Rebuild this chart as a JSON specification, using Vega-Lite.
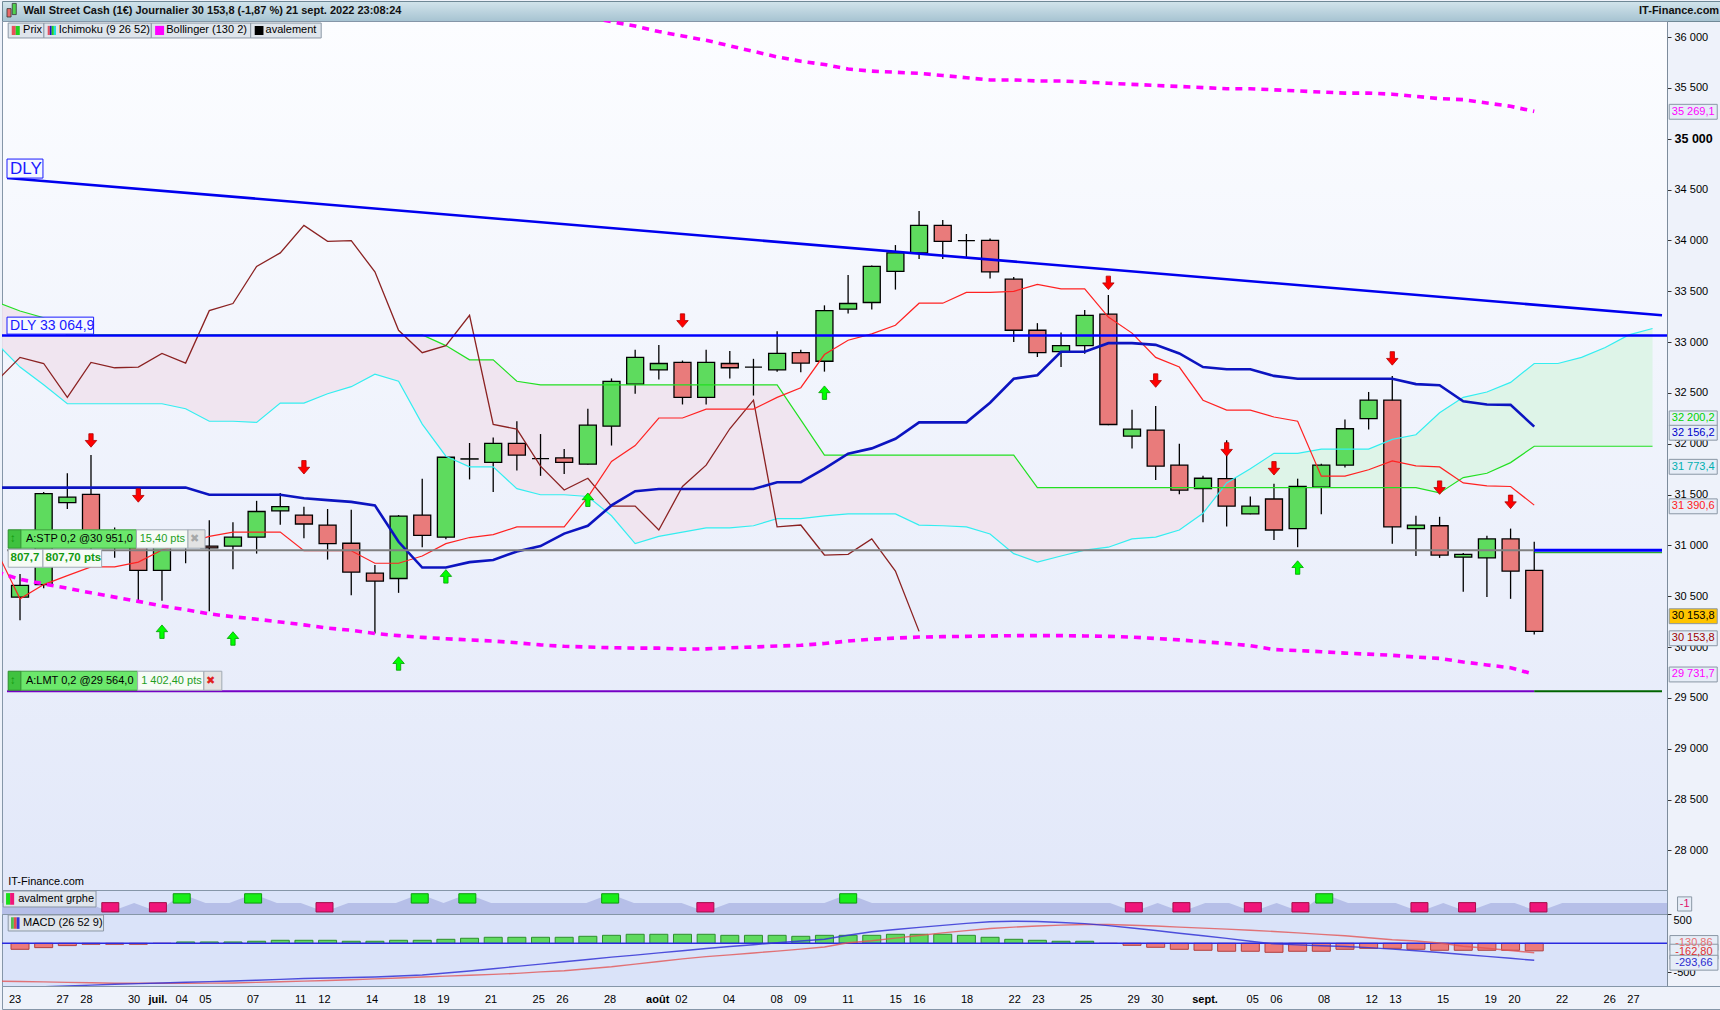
{
"$schema":"https://vega.github.io/schema/vega-lite/v6.json",
"padding":0,
"background":"#eef2fa",
"spacing":0,
"bounds":"flush",
"config":{"view":{"stroke":"#8596a8"},"font":"Liberation Sans","axis":{"labelFont":"Liberation Sans","grid":false,"title":null}},
"datasets":{
"candles":[
{"i":0,"o":30491,"h":30719,"l":30263,"c":30607},{"i":1,"o":30614,"h":31526,"l":30579,"c":31509},{"i":2,"o":31421,"h":31709,"l":31358,"c":31474},{"i":3,"o":31502,"h":31888,"l":30950,"c":31052},{"i":4,"o":30990,"h":31175,"l":30877,"c":31060},{"i":5,"o":31088,"h":31140,"l":30456,"c":30754},{"i":6,"o":30754,"h":31140,"l":30456,"c":31100},{"i":7,"o":31080,"h":31140,"l":30824,"c":31020},{"i":8,"o":30993,"h":31246,"l":30351,"c":30975},{"i":9,"o":30993,"h":31228,"l":30765,"c":31081},
{"i":10,"o":31081,"h":31438,"l":30919,"c":31333},{"i":11,"o":31340,"h":31516,"l":31203,"c":31382},{"i":12,"o":31298,"h":31379,"l":31070,"c":31210},{"i":13,"o":31200,"h":31358,"l":30860,"c":31017},{"i":14,"o":31021,"h":31351,"l":30509,"c":30737},{"i":15,"o":30726,"h":30807,"l":30133,"c":30649},{"i":16,"o":30674,"h":31298,"l":30533,"c":31288},{"i":17,"o":31298,"h":31656,"l":30982,"c":31098},{"i":18,"o":31081,"h":31877,"l":31060,"c":31867},{"i":19,"o":31849,"h":32007,"l":31649,"c":31851},
{"i":20,"o":31817,"h":32060,"l":31526,"c":32003},{"i":21,"o":32003,"h":32221,"l":31737,"c":31888},{"i":22,"o":31853,"h":32095,"l":31684,"c":31853},{"i":23,"o":31860,"h":31947,"l":31702,"c":31817},{"i":24,"o":31800,"h":32344,"l":31795,"c":32182},{"i":25,"o":32172,"h":32642,"l":31982,"c":32614},{"i":26,"o":32586,"h":32923,"l":32491,"c":32849},{"i":27,"o":32726,"h":32972,"l":32632,"c":32789},{"i":28,"o":32800,"h":32818,"l":32386,"c":32456},{"i":29,"o":32456,"h":32923,"l":32386,"c":32800},
{"i":30,"o":32789,"h":32912,"l":32642,"c":32747},{"i":31,"o":32754,"h":32835,"l":32474,"c":32754},{"i":32,"o":32726,"h":33105,"l":32709,"c":32888},{"i":33,"o":32895,"h":32923,"l":32702,"c":32793},{"i":34,"o":32811,"h":33361,"l":32709,"c":33309},{"i":35,"o":33323,"h":33660,"l":33281,"c":33379},{"i":36,"o":33389,"h":33754,"l":33319,"c":33744},{"i":37,"o":33695,"h":33954,"l":33516,"c":33877},{"i":38,"o":33877,"h":34288,"l":33818,"c":34147},{"i":39,"o":34147,"h":34200,"l":33818,"c":33990},
{"i":40,"o":33997,"h":34063,"l":33835,"c":33997},{"i":41,"o":34000,"h":34018,"l":33625,"c":33691},{"i":42,"o":33618,"h":33639,"l":33000,"c":33116},{"i":43,"o":33116,"h":33186,"l":32853,"c":32895},{"i":44,"o":32905,"h":33095,"l":32754,"c":32965},{"i":45,"o":32965,"h":33316,"l":32884,"c":33263},{"i":46,"o":33274,"h":33463,"l":32182,"c":32189},{"i":47,"o":32074,"h":32333,"l":31954,"c":32144},{"i":48,"o":32133,"h":32372,"l":31642,"c":31779},{"i":49,"o":31789,"h":32000,"l":31502,"c":31544},
{"i":50,"o":31558,"h":31684,"l":31228,"c":31660},{"i":51,"o":31656,"h":32035,"l":31186,"c":31386},{"i":52,"o":31309,"h":31481,"l":31305,"c":31386},{"i":53,"o":31456,"h":31607,"l":31053,"c":31151},{"i":54,"o":31165,"h":31656,"l":30982,"c":31579},{"i":55,"o":31572,"h":31803,"l":31305,"c":31789},{"i":56,"o":31789,"h":32239,"l":31765,"c":32147},{"i":57,"o":32246,"h":32509,"l":32140,"c":32428},{"i":58,"o":32428,"h":32667,"l":31017,"c":31182},{"i":59,"o":31165,"h":31291,"l":30895,"c":31200},
{"i":60,"o":31193,"h":31281,"l":30877,"c":30905},{"i":61,"o":30884,"h":30926,"l":30544,"c":30912},{"i":62,"o":30877,"h":31095,"l":30491,"c":31063},{"i":63,"o":31063,"h":31165,"l":30474,"c":30747},{"i":64,"o":30754,"h":31035,"l":30123,"c":30154}
],
"ichi":[
{"i":-1,"t":30950,"k":31568,"a":32990,"b":33393,"ch":32614},{"i":0,"t":30474,"k":31568,"a":32754,"b":33305,"ch":32849},{"i":1,"t":30614,"k":31568,"a":32579,"b":33239,"ch":32789},{"i":2,"t":30702,"k":31568,"a":32393,"b":33070,"ch":32456},{"i":3,"t":30789,"k":31568,"a":32393,"b":33070,"ch":32800},{"i":4,"t":30789,"k":31568,"a":32393,"b":33070,"ch":32747},{"i":5,"t":30835,"k":31568,"a":32393,"b":33070,"ch":32754},{"i":6,"t":30954,"k":31568,"a":32393,"b":33070,"ch":32888},{"i":7,"t":31017,"k":31568,"a":32344,"b":33070,"ch":32793},{"i":8,"t":31088,"k":31498,"a":32221,"b":33070,"ch":33309},{"i":9,"t":31130,"k":31498,"a":32221,"b":33070,"ch":33379},
{"i":10,"t":31130,"k":31498,"a":32210,"b":33070,"ch":33744},{"i":11,"t":31130,"k":31498,"a":32400,"b":33070,"ch":33877},{"i":12,"t":30947,"k":31463,"a":32400,"b":33070,"ch":34147},{"i":13,"t":30947,"k":31445,"a":32491,"b":33070,"ch":33990},{"i":14,"t":30947,"k":31428,"a":32561,"b":33070,"ch":33997},{"i":15,"t":30824,"k":31393,"a":32684,"b":33070,"ch":33691},{"i":16,"t":30824,"k":31035,"a":32614,"b":33070,"ch":33116},{"i":17,"t":30895,"k":30782,"a":32193,"b":33070,"ch":32895},{"i":18,"t":31017,"k":30782,"a":31877,"b":32965,"ch":32965},{"i":19,"t":31077,"k":30835,"a":31772,"b":32825,"ch":33263},
{"i":20,"t":31105,"k":30856,"a":31772,"b":32825,"ch":32189},{"i":21,"t":31182,"k":30940,"a":31558,"b":32614,"ch":32144},{"i":22,"t":31182,"k":30993,"a":31498,"b":32579,"ch":31779},{"i":23,"t":31182,"k":31116,"a":31498,"b":32579,"ch":31544},{"i":24,"t":31474,"k":31193,"a":31481,"b":32579,"ch":31660},{"i":25,"t":31825,"k":31393,"a":31291,"b":32579,"ch":31386},{"i":26,"t":31982,"k":31533,"a":31017,"b":32579,"ch":31386},{"i":27,"t":32253,"k":31554,"a":31088,"b":32579,"ch":31151},{"i":28,"t":32253,"k":31554,"a":31130,"b":32579,"ch":31579},{"i":29,"t":32340,"k":31554,"a":31172,"b":32579,"ch":31789},
{"i":30,"t":32340,"k":31554,"a":31172,"b":32579,"ch":32147},{"i":31,"t":32340,"k":31554,"a":31193,"b":32579,"ch":32428},{"i":32,"t":32456,"k":31621,"a":31263,"b":32579,"ch":31182},{"i":33,"t":32551,"k":31621,"a":31263,"b":32235,"ch":31200},{"i":34,"t":32877,"k":31754,"a":31291,"b":31888,"ch":30905},{"i":35,"t":33018,"k":31902,"a":31309,"b":31888,"ch":30912},{"i":36,"t":33081,"k":31954,"a":31309,"b":31888,"ch":31063},{"i":37,"t":33165,"k":32049,"a":31309,"b":31888,"ch":30747},{"i":38,"t":33382,"k":32210,"a":31200,"b":31888,"ch":30154},{"i":39,"t":33382,"k":32210,"a":31193,"b":31888},
{"i":40,"t":33488,"k":32210,"a":31182,"b":31888},{"i":41,"t":33488,"k":32403,"a":31112,"b":31888},{"i":42,"t":33498,"k":32639,"a":30919,"b":31888},{"i":43,"t":33568,"k":32674,"a":30835,"b":31568},{"i":44,"t":33523,"k":32905,"a":30895,"b":31568},{"i":45,"t":33523,"k":32905,"a":30954,"b":31568},{"i":46,"t":33246,"k":32989,"a":30982,"b":31568},{"i":47,"t":33088,"k":32989,"a":31063,"b":31568},{"i":48,"t":32849,"k":32972,"a":31081,"b":31568},{"i":49,"t":32754,"k":32888,"a":31151,"b":31568},
{"i":50,"t":32428,"k":32754,"a":31316,"b":31568},{"i":50.85,"a":31568,"b":31568},{"i":51,"t":32330,"k":32733,"a":31614,"b":31568},{"i":52,"t":32330,"k":32733,"a":31754,"b":31568},{"i":53,"t":32263,"k":32667,"a":31905,"b":31568},{"i":54,"t":32221,"k":32639,"a":31905,"b":31568},{"i":55,"t":31681,"k":32639,"a":31947,"b":31568},{"i":56,"t":31681,"k":32639,"a":31947,"b":31568},{"i":57,"t":31744,"k":32639,"a":31947,"b":31568},{"i":58,"t":31831,"k":32639,"a":32042,"b":31568},{"i":59,"t":31782,"k":32586,"a":32088,"b":31568},
{"i":60,"t":31772,"k":32575,"a":32305,"b":31516},{"i":61,"t":31614,"k":32417,"a":32456,"b":31667},{"i":62,"t":31586,"k":32386,"a":32509,"b":31709},{"i":63,"t":31579,"k":32382,"a":32603,"b":31814},{"i":64,"t":31396,"k":32168,"a":32789,"b":31975},{"i":65,"a":32789,"b":31975},{"i":66,"a":32849,"b":31975},{"i":67,"a":32947,"b":31975},{"i":68,"a":33070,"b":31975},{"i":69,"a":33133,"b":31975}
],
"boll":[
{"i":-1,"lo":30740},{"i":0,"lo":30666},{"i":1,"lo":30621},{"i":2,"lo":30579},{"i":3,"lo":30533},{"i":4,"lo":30491},{"i":5,"lo":30449},{"i":6,"lo":30403},{"i":7,"lo":30368},{"i":8,"lo":30326},{"i":9,"lo":30298},{"i":10,"lo":30274},{"i":11,"lo":30246},{"i":12,"lo":30218},{"i":13,"lo":30186},{"i":14,"lo":30165},{"i":15,"lo":30133},{"i":16,"lo":30112},{"i":17,"lo":30095},{"i":18,"lo":30081},{"i":19,"lo":30070},{"i":20,"lo":30059},{"i":21,"lo":30042},
{"i":22,"u":36300,"lo":30021},{"i":23,"u":36230,"lo":30007},{"i":24,"u":36200,"lo":30000},{"i":25,"u":36151,"lo":29993},{"i":26,"u":36108,"lo":29989},{"i":27,"u":36054,"lo":29989},{"i":28,"u":36011,"lo":29979},{"i":29,"u":35968,"lo":29982},{"i":30,"u":35914,"lo":29993},{"i":31,"u":35859,"lo":30000},{"i":32,"u":35805,"lo":30010},{"i":33,"u":35762,"lo":30017},{"i":34,"u":35730,"lo":30035},{"i":35,"u":35686,"lo":30059},{"i":36,"u":35665,"lo":30077},{"i":37,"u":35654,"lo":30088},{"i":38,"u":35643,"lo":30098},{"i":39,"u":35622,"lo":30102},{"i":40,"u":35600,"lo":30105},{"i":41,"u":35578,"lo":30109},{"i":42,"u":35578,"lo":30112},{"i":43,"u":35568,"lo":30112},
{"i":44,"u":35568,"lo":30112},{"i":45,"u":35557,"lo":30109},{"i":46,"u":35546,"lo":30105},{"i":47,"u":35535,"lo":30098},{"i":48,"u":35524,"lo":30084},{"i":49,"u":35514,"lo":30070},{"i":50,"u":35503,"lo":30052},{"i":51,"u":35492,"lo":30035},{"i":52,"u":35492,"lo":30014},{"i":53,"u":35481,"lo":29975},{"i":54,"u":35470,"lo":29965},{"i":55,"u":35459,"lo":29954},{"i":56,"u":35449,"lo":29940},{"i":57,"u":35449,"lo":29930},{"i":58,"u":35438,"lo":29919},{"i":59,"u":35416,"lo":29901},{"i":60,"u":35395,"lo":29888},{"i":61,"u":35384,"lo":29853},{"i":62,"u":35351,"lo":29824},{"i":63,"u":35319,"lo":29796},{"i":64,"u":35269,"lo":29732}
],
"arrows":[
{"i":3,"p":32032,"d":"dn"},{"i":5,"p":31491,"d":"dn"},{"i":12,"p":31768,"d":"dn"},{"i":28,"p":33211,"d":"dn"},{"i":46,"p":33582,"d":"dn"},{"i":48,"p":32621,"d":"dn"},{"i":51,"p":31944,"d":"dn"},{"i":53,"p":31758,"d":"dn"},{"i":58,"p":32839,"d":"dn"},{"i":60,"p":31568,"d":"dn"},{"i":63,"p":31428,"d":"dn"},
{"i":6,"p":30151,"d":"up"},{"i":9,"p":30084,"d":"up"},{"i":16,"p":29838,"d":"up"},{"i":18,"p":30695,"d":"up"},{"i":24,"p":31449,"d":"up"},{"i":34,"p":32502,"d":"up"},{"i":54,"p":30782,"d":"up"}
],
"boxes":[
{"x":-0.5,"x2":1.01,"y":36138,"y2":35991,"k":"leg"},{"x":1.01,"x2":5.55,"y":36138,"y2":35991,"k":"leg"},{"x":5.55,"x2":9.75,"y":36138,"y2":35991,"k":"leg"},{"x":9.75,"x2":12.73,"y":36138,"y2":35991,"k":"leg"},
{"x":-0.35,"x2":-0.18,"y":36110,"y2":36020,"k":"ic_red"},{"x":-0.18,"x2":-0.01,"y":36110,"y2":36020,"k":"ic_grn"},
{"x":1.17,"x2":1.26,"y":36110,"y2":36020,"k":"ic_red"},{"x":1.26,"x2":1.34,"y":36110,"y2":36020,"k":"ic_blue"},{"x":1.34,"x2":1.43,"y":36110,"y2":36020,"k":"ic_grn"},{"x":1.43,"x2":1.52,"y":36110,"y2":36020,"k":"ic_cyan"},
{"x":5.71,"x2":6.09,"y":36110,"y2":36020,"k":"ic_mag"},{"x":9.92,"x2":10.29,"y":36110,"y2":36020,"k":"ic_blk"},
{"x":-0.5,"x2":0.04,"y":31153,"y2":30972,"k":"icon"},{"x":0.04,"x2":4.92,"y":31153,"y2":30972,"k":"grn"},{"x":4.92,"x2":7.1,"y":31153,"y2":30972,"k":"wht"},{"x":7.1,"x2":7.82,"y":31153,"y2":30972,"k":"gry"},
{"x":-0.5,"x2":0.97,"y":30962,"y2":30785,"k":"wht"},{"x":0.97,"x2":3.45,"y":30962,"y2":30785,"k":"wht"},
{"x":-0.5,"x2":0.04,"y":29762,"y2":29575,"k":"icon"},{"x":0.04,"x2":4.97,"y":29762,"y2":29575,"k":"grn"},{"x":4.97,"x2":7.77,"y":29762,"y2":29575,"k":"wht"},{"x":7.77,"x2":8.53,"y":29762,"y2":29575,"k":"gry"},
{"x":-0.55,"x2":0.97,"y":34800,"y2":34613,"k":"dly"},{"x":-0.55,"x2":3.11,"y":33245,"y2":33078,"k":"dly"}
],
"labels":[
{"i":0.13,"p":36065,"t":"Prix","k":"blk"},{"i":1.64,"p":36065,"t":"Ichimoku (9 26 52)","k":"blk"},{"i":6.18,"p":36065,"t":"Bollinger (130 2)","k":"blk"},{"i":10.38,"p":36065,"t":"avalement","k":"blk"},
{"i":0.25,"p":31062,"t":"A:STP  0,2 @30 951,0","k":"blk"},{"i":5.06,"p":31062,"t":"15,40 pts","k":"grn"},{"i":7.2,"p":31062,"t":"✖","k":"gry"},
{"i":0.25,"p":29668,"t":"A:LMT  0,2 @29 564,0","k":"blk"},{"i":5.12,"p":29668,"t":"1 402,40 pts","k":"grn"},{"i":7.88,"p":29668,"t":"✖","k":"red"},
{"i":-0.5,"p":27690,"t":"IT-Finance.com","k":"blk"}
],
"boldlabels":[
{"i":-0.4,"p":30873,"t":"807,7"},{"i":1.08,"p":30873,"t":"807,70 pts"},{"i":-0.42,"p":31062,"t":"↕"},{"i":-0.42,"p":29668,"t":"↕"}
],
"dly":[{"i":-0.42,"p":34707,"t":"DLY"},{"i":-0.42,"p":33161,"t":"DLY 33 064,9"}],
"badges":[
{"p":35265,"t":"35 269,1","s":"boll"},{"p":32249,"t":"32 200,2","s":"ssb"},{"p":32108,"t":"32 156,2","s":"kij"},{"p":31773,"t":"31 773,4","s":"ssa"},{"p":31384,"t":"31 390,6","s":"ten"},{"p":30303,"t":"30 153,8","s":"close"},{"p":30086,"t":"30 153,8","s":"chik"},{"p":29730,"t":"29 731,7","s":"boll"}
],
"aval":[
{"i":-1,"v":0},{"i":0,"v":0},{"i":1,"v":0},{"i":2,"v":0},{"i":3,"v":0},{"i":4,"v":-1},{"i":5,"v":0},{"i":6,"v":-1},{"i":7,"v":1},{"i":8,"v":0},{"i":9,"v":0},{"i":10,"v":1},{"i":11,"v":0},{"i":12,"v":0},{"i":13,"v":-1},{"i":14,"v":0},{"i":15,"v":0},{"i":16,"v":0},{"i":17,"v":1},{"i":18,"v":0},{"i":19,"v":1},{"i":20,"v":0},{"i":21,"v":0},{"i":22,"v":0},{"i":23,"v":0},{"i":24,"v":0},{"i":25,"v":1},{"i":26,"v":0},{"i":27,"v":0},{"i":28,"v":0},{"i":29,"v":-1},{"i":30,"v":0},{"i":31,"v":0},{"i":32,"v":0},{"i":33,"v":0},{"i":34,"v":0},{"i":35,"v":1},{"i":36,"v":0},{"i":37,"v":0},{"i":38,"v":0},{"i":39,"v":0},{"i":40,"v":0},{"i":41,"v":0},{"i":42,"v":0},{"i":43,"v":0},{"i":44,"v":0},{"i":45,"v":0},{"i":46,"v":0},{"i":47,"v":-1},{"i":48,"v":0},{"i":49,"v":-1},{"i":50,"v":0},{"i":51,"v":0},{"i":52,"v":-1},{"i":53,"v":0},{"i":54,"v":-1},{"i":55,"v":1},{"i":56,"v":0},{"i":57,"v":0},{"i":58,"v":0},{"i":59,"v":-1},{"i":60,"v":0},{"i":61,"v":-1},{"i":62,"v":0},{"i":63,"v":0},{"i":64,"v":-1},{"i":65,"v":0},{"i":66,"v":0},{"i":67,"v":0},{"i":68,"v":0},{"i":69,"v":0},{"i":70,"v":0}
],
"macd":[
{"i":-1,"m":-790,"s":-655},{"i":0,"h":-104,"m":-767,"s":-660},{"i":1,"h":-75,"m":-752,"s":-668},{"i":2,"h":-40,"m":-738,"s":-676},{"i":3,"h":-17,"m":-724,"s":-684},{"i":4,"h":-17,"m":-710,"s":-692},{"i":5,"h":-17,"m":-698,"s":-692},{"i":6,"h":-2,"m":-687,"s":-692},{"i":7,"h":23,"m":-675,"s":-692},{"i":8,"h":23,"m":-664,"s":-690},{"i":9,"h":23,"m":-652,"s":-686},
{"i":10,"h":35,"m":-639,"s":-676},{"i":11,"h":52,"m":-625,"s":-665},{"i":12,"h":52,"m":-610,"s":-655},{"i":13,"h":52,"m":-601,"s":-645},{"i":14,"h":35,"m":-593,"s":-630},{"i":15,"h":35,"m":-584,"s":-615},{"i":16,"h":52,"m":-566,"s":-600},{"i":17,"h":52,"m":-548,"s":-583},{"i":18,"h":69,"m":-514,"s":-568},{"i":19,"h":87,"m":-479,"s":-552},
{"i":20,"h":104,"m":-440,"s":-537},{"i":21,"h":104,"m":-400,"s":-520},{"i":22,"h":104,"m":-360,"s":-495},{"i":23,"h":104,"m":-320,"s":-475},{"i":24,"h":121,"m":-280,"s":-440},{"i":25,"h":138,"m":-240,"s":-405},{"i":26,"h":156,"m":-205,"s":-360},{"i":27,"h":156,"m":-165,"s":-315},{"i":28,"h":156,"m":-128,"s":-270},{"i":29,"h":156,"m":-90,"s":-230},
{"i":30,"h":138,"m":-55,"s":-200},{"i":31,"h":138,"m":-25,"s":-168},{"i":32,"h":138,"m":10,"s":-135},{"i":33,"h":121,"m":40,"s":-100},{"i":34,"h":138,"m":69,"s":-63},{"i":35,"h":138,"m":140,"s":10},{"i":36,"h":138,"m":200,"s":45},{"i":37,"h":156,"m":240,"s":90},{"i":38,"h":156,"m":275,"s":135},{"i":39,"h":156,"m":310,"s":180},
{"i":40,"h":138,"m":345,"s":220},{"i":41,"h":104,"m":372,"s":255},{"i":42,"h":69,"m":381,"s":280},{"i":43,"h":52,"m":378,"s":300},{"i":44,"h":35,"m":360,"s":315},{"i":45,"h":35,"m":340,"s":325},{"i":46,"h":-3,"m":305,"s":325},{"i":47,"h":-35,"m":265,"s":312},{"i":48,"h":-69,"m":222,"s":300},{"i":49,"h":-104,"m":175,"s":280},
{"i":50,"h":-121,"m":130,"s":262},{"i":51,"h":-138,"m":85,"s":245},{"i":52,"h":-138,"m":35,"s":225},{"i":53,"h":-156,"m":-10,"s":205},{"i":54,"h":-138,"m":-28,"s":180},{"i":55,"h":-138,"m":-43,"s":155},{"i":56,"h":-104,"m":-56,"s":130},{"i":57,"h":-87,"m":-75,"s":95},{"i":58,"h":-87,"m":-100,"s":62},{"i":59,"h":-104,"m":-128,"s":40},
{"i":60,"h":-121,"m":-160,"s":5},{"i":61,"h":-121,"m":-195,"s":-50},{"i":62,"h":-121,"m":-227,"s":-85},{"i":63,"h":-121,"m":-260,"s":-125},{"i":64,"h":-131,"m":-294,"s":-163}
],
"dates":[
{"i":0,"t":"23","m":0},{"i":2,"t":"27","m":0},{"i":3,"t":"28","m":0},{"i":5,"t":"30","m":0},{"i":6,"t":"juil.","m":1},{"i":7,"t":"04","m":0},{"i":8,"t":"05","m":0},{"i":10,"t":"07","m":0},{"i":12,"t":"11","m":0},{"i":13,"t":"12","m":0},{"i":15,"t":"14","m":0},{"i":17,"t":"18","m":0},{"i":18,"t":"19","m":0},{"i":20,"t":"21","m":0},{"i":22,"t":"25","m":0},{"i":23,"t":"26","m":0},{"i":25,"t":"28","m":0},{"i":27,"t":"août","m":1},{"i":28,"t":"02","m":0},{"i":30,"t":"04","m":0},{"i":32,"t":"08","m":0},{"i":33,"t":"09","m":0},{"i":35,"t":"11","m":0},{"i":37,"t":"15","m":0},{"i":38,"t":"16","m":0},{"i":40,"t":"18","m":0},{"i":42,"t":"22","m":0},{"i":43,"t":"23","m":0},{"i":45,"t":"25","m":0},{"i":47,"t":"29","m":0},{"i":48,"t":"30","m":0},{"i":50,"t":"sept.","m":1},{"i":52,"t":"05","m":0},{"i":53,"t":"06","m":0},{"i":55,"t":"08","m":0},{"i":57,"t":"12","m":0},{"i":58,"t":"13","m":0},{"i":60,"t":"15","m":0},{"i":62,"t":"19","m":0},{"i":63,"t":"20","m":0},{"i":65,"t":"22","m":0},{"i":67,"t":"26","m":0},{"i":68,"t":"27","m":0}
]
},
"vconcat":[
{
"width":1720,"height":20,
"view":{"fill":{"x1":0,"y1":0,"x2":0,"y2":1,"gradient":"linear","stops":[{"offset":0,"color":"#d2e4ec"},{"offset":1,"color":"#a6c3d1"}]},"stroke":"#6f8896"},
"layer":[
{"data":{"values":[{"x":-0.34,"x2":-0.17,"y":0.62,"y2":0.2,"k":"r"},{"x":-0.12,"x2":0.05,"y":0.88,"y2":0.32,"k":"g"}]},
"mark":{"type":"rect","stroke":"#333333","strokeWidth":0.8},
"encoding":{"x":{"field":"x","type":"quantitative","scale":{"domain":[-0.55,71.72],"nice":false,"zero":false},"axis":null},"x2":{"field":"x2"},"y":{"field":"y","type":"quantitative","scale":{"domain":[0,1],"nice":false,"zero":false},"axis":null},"y2":{"field":"y2"},"fill":{"condition":{"test":"datum.k=='r'","value":"#e86a6a"},"value":"#4fd24f"}}},
{"data":{"values":[{"i":0.35,"t":"Wall Street Cash (1€) Journalier 30 153,8 (-1,87 %) 21 sept. 2022 23:08:24"}]},
"mark":{"type":"text","align":"left","baseline":"middle","font":"Liberation Sans","fontSize":11,"fontWeight":"bold","color":"#111111"},
"encoding":{"x":{"field":"i","type":"quantitative","scale":{"domain":[-0.55,71.72],"nice":false,"zero":false},"axis":null},"y":{"datum":0.5,"type":"quantitative","scale":{"domain":[0,1],"nice":false,"zero":false},"axis":null},"text":{"field":"t"}}},
{"data":{"values":[{"i":71.6,"t":"IT-Finance.com"}]},
"mark":{"type":"text","align":"right","baseline":"middle","font":"Liberation Sans","fontSize":11,"fontWeight":"bold","color":"#111111"},
"encoding":{"x":{"field":"i","type":"quantitative","scale":{"domain":[-0.55,71.72],"nice":false,"zero":false},"axis":null},"y":{"datum":0.5,"type":"quantitative","scale":{"domain":[0,1],"nice":false,"zero":false},"axis":null},"text":{"field":"t"}}}
]
},
{
"width":1665,"height":869,
"view":{"fill":{"x1":0,"y1":0,"x2":0,"y2":1,"gradient":"linear","stops":[{"offset":0,"color":"#fcfdff"},{"offset":1,"color":"#e2e8f9"}]},"stroke":"#8596a8"},
"layer":[
{"data":{"name":"ichi"},"transform":[{"filter":"isValid(datum.a) && datum.i <= 50.85"}],
"mark":{"type":"area","color":"#f0e3ee","opacity":0.9,"clip":true},
"encoding":{"x":{"field":"i","type":"quantitative","scale":{"domain":[-0.55,69.4],"nice":false,"zero":false},"axis":null},
"y":{"field":"a","type":"quantitative","scale":{"domain":[27610,36158],"nice":false,"zero":false},
"axis":{"orient":"right","title":null,"grid":false,"values":[28000,28500,29000,29500,30000,30500,31000,31500,32000,32500,33000,33500,34000,34500,35000,35500,36000],"labelExpr":"replace(format(datum.value, ',d'), ',', ' ')","tickSize":4,"tickColor":"#333333","domainColor":"#7d8c9c","labelColor":"#000000","labelPadding":3,"labelFontSize":{"condition":{"test":"datum.value == 35000","value":12.5},"value":11},"labelFontWeight":{"condition":{"test":"datum.value == 35000","value":"bold"},"value":"normal"}}},
"y2":{"field":"b"}}},
{"data":{"name":"ichi"},"transform":[{"filter":"isValid(datum.a) && datum.i >= 50.85"}],
"mark":{"type":"area","color":"#dcf3e7","opacity":0.95,"clip":true},
"encoding":{"x":{"field":"i","type":"quantitative","scale":{"domain":[-0.55,69.4],"nice":false,"zero":false},"axis":null},"y":{"field":"a","type":"quantitative","scale":{"domain":[27610,36158],"nice":false,"zero":false}},"y2":{"field":"b"}}},
{"data":{"name":"candles"},"mark":{"type":"rule","color":"#000000","strokeWidth":1.3},
"encoding":{"x":{"field":"i","type":"quantitative","scale":{"domain":[-0.55,69.4],"nice":false,"zero":false},"axis":null},"y":{"field":"l","type":"quantitative","scale":{"domain":[27610,36158],"nice":false,"zero":false}},"y2":{"field":"h"}}},
{"data":{"name":"candles"},"mark":{"type":"bar","width":17,"stroke":"#000000","strokeWidth":1.3},
"encoding":{"x":{"field":"i","type":"quantitative","scale":{"domain":[-0.55,69.4],"nice":false,"zero":false},"axis":null},"y":{"field":"o","type":"quantitative","scale":{"domain":[27610,36158],"nice":false,"zero":false}},"y2":{"field":"c"},"fill":{"condition":{"test":"datum.c >= datum.o","value":"#5edb5e"},"value":"#e97b7b"}}},
{"data":{"name":"ichi"},"transform":[{"filter":"isValid(datum.a)"}],"mark":{"type":"line","color":"#33eef0","strokeWidth":1.2,"clip":true},
"encoding":{"x":{"field":"i","type":"quantitative","scale":{"domain":[-0.55,69.4],"nice":false,"zero":false},"axis":null},"y":{"field":"a","type":"quantitative","scale":{"domain":[27610,36158],"nice":false,"zero":false}}}},
{"data":{"name":"ichi"},"transform":[{"filter":"isValid(datum.b)"}],"mark":{"type":"line","color":"#22e022","strokeWidth":1.2,"clip":true},
"encoding":{"x":{"field":"i","type":"quantitative","scale":{"domain":[-0.55,69.4],"nice":false,"zero":false},"axis":null},"y":{"field":"b","type":"quantitative","scale":{"domain":[27610,36158],"nice":false,"zero":false}}}},
{"data":{"name":"ichi"},"transform":[{"filter":"isValid(datum.ch)"}],"mark":{"type":"line","color":"#8b2222","strokeWidth":1.3,"clip":true},
"encoding":{"x":{"field":"i","type":"quantitative","scale":{"domain":[-0.55,69.4],"nice":false,"zero":false},"axis":null},"y":{"field":"ch","type":"quantitative","scale":{"domain":[27610,36158],"nice":false,"zero":false}}}},
{"data":{"name":"ichi"},"transform":[{"filter":"isValid(datum.t)"}],"mark":{"type":"line","color":"#ff2222","strokeWidth":1.2,"clip":true},
"encoding":{"x":{"field":"i","type":"quantitative","scale":{"domain":[-0.55,69.4],"nice":false,"zero":false},"axis":null},"y":{"field":"t","type":"quantitative","scale":{"domain":[27610,36158],"nice":false,"zero":false}}}},
{"data":{"name":"ichi"},"transform":[{"filter":"isValid(datum.k)"}],"mark":{"type":"line","color":"#0c14c0","strokeWidth":2.6,"clip":true},
"encoding":{"x":{"field":"i","type":"quantitative","scale":{"domain":[-0.55,69.4],"nice":false,"zero":false},"axis":null},"y":{"field":"k","type":"quantitative","scale":{"domain":[27610,36158],"nice":false,"zero":false}}}},
{"data":{"name":"boll"},"transform":[{"filter":"isValid(datum.u)"}],"mark":{"type":"line","color":"#ff00ff","strokeWidth":3.6,"strokeDash":[7,6],"clip":true},
"encoding":{"x":{"field":"i","type":"quantitative","scale":{"domain":[-0.55,69.4],"nice":false,"zero":false},"axis":null},"y":{"field":"u","type":"quantitative","scale":{"domain":[27610,36158],"nice":false,"zero":false}}}},
{"data":{"name":"boll"},"mark":{"type":"line","color":"#ff00ff","strokeWidth":3.6,"strokeDash":[7,6],"clip":true},
"encoding":{"x":{"field":"i","type":"quantitative","scale":{"domain":[-0.55,69.4],"nice":false,"zero":false},"axis":null},"y":{"field":"lo","type":"quantitative","scale":{"domain":[27610,36158],"nice":false,"zero":false}}}},
{"data":{"values":[{}]},"mark":{"type":"rule","color":"#0000ff","strokeWidth":2.6},
"encoding":{"y":{"datum":33064.9,"type":"quantitative","scale":{"domain":[27610,36158],"nice":false,"zero":false}}}},
{"data":{"values":[{}]},"mark":{"type":"rule","color":"#0000ee","strokeWidth":2.6},
"encoding":{"x":{"datum":-0.55,"type":"quantitative","scale":{"domain":[-0.55,69.4],"nice":false,"zero":false},"axis":null},"x2":{"datum":69.4},"y":{"datum":34614,"type":"quantitative","scale":{"domain":[27610,36158],"nice":false,"zero":false}},"y2":{"datum":33263}}},
{"data":{"values":[{}]},"mark":{"type":"rule","color":"#808080","strokeWidth":2},
"encoding":{"x":{"datum":-0.55,"type":"quantitative","scale":{"domain":[-0.55,69.4],"nice":false,"zero":false},"axis":null},"x2":{"datum":64},"y":{"datum":30951,"type":"quantitative","scale":{"domain":[27610,36158],"nice":false,"zero":false}}}},
{"data":{"values":[{}]},"mark":{"type":"rule","color":"#009900","strokeWidth":1},
"encoding":{"x":{"datum":64,"type":"quantitative","scale":{"domain":[-0.55,69.4],"nice":false,"zero":false},"axis":null},"x2":{"datum":69.4},"y":{"datum":30928,"type":"quantitative","scale":{"domain":[27610,36158],"nice":false,"zero":false}}}},
{"data":{"values":[{}]},"mark":{"type":"rule","color":"#0000ff","strokeWidth":3},
"encoding":{"x":{"datum":64,"type":"quantitative","scale":{"domain":[-0.55,69.4],"nice":false,"zero":false},"axis":null},"x2":{"datum":69.4},"y":{"datum":30951,"type":"quantitative","scale":{"domain":[27610,36158],"nice":false,"zero":false}}}},
{"data":{"values":[{}]},"mark":{"type":"rule","color":"#7400c4","strokeWidth":2},
"encoding":{"x":{"datum":-0.55,"type":"quantitative","scale":{"domain":[-0.55,69.4],"nice":false,"zero":false},"axis":null},"x2":{"datum":64},"y":{"datum":29564,"type":"quantitative","scale":{"domain":[27610,36158],"nice":false,"zero":false}}}},
{"data":{"values":[{}]},"mark":{"type":"rule","color":"#006400","strokeWidth":2},
"encoding":{"x":{"datum":64,"type":"quantitative","scale":{"domain":[-0.55,69.4],"nice":false,"zero":false},"axis":null},"x2":{"datum":69.4},"y":{"datum":29564,"type":"quantitative","scale":{"domain":[27610,36158],"nice":false,"zero":false}}}},
{"data":{"name":"arrows"},"transform":[{"filter":"datum.d == 'dn'"}],
"mark":{"type":"point","shape":"M-0.32,-1L0.32,-1L0.32,0L0.85,0L0,1L-0.85,0L-0.32,0Z","size":182,"filled":true,"fill":"#ff0000","stroke":"#b00000","strokeWidth":0.8,"opacity":1},
"encoding":{"x":{"field":"i","type":"quantitative","scale":{"domain":[-0.55,69.4],"nice":false,"zero":false},"axis":null},"y":{"field":"p","type":"quantitative","scale":{"domain":[27610,36158],"nice":false,"zero":false}}}},
{"data":{"name":"arrows"},"transform":[{"filter":"datum.d == 'up'"}],
"mark":{"type":"point","shape":"M-0.32,1L0.32,1L0.32,0L0.85,0L0,-1L-0.85,0L-0.32,0Z","size":182,"filled":true,"fill":"#00ff00","stroke":"#00a000","strokeWidth":0.8,"opacity":1},
"encoding":{"x":{"field":"i","type":"quantitative","scale":{"domain":[-0.55,69.4],"nice":false,"zero":false},"axis":null},"y":{"field":"p","type":"quantitative","scale":{"domain":[27610,36158],"nice":false,"zero":false}}}},
{"data":{"name":"boxes"},"mark":{"type":"rect","strokeWidth":1},
"encoding":{"x":{"field":"x","type":"quantitative","scale":{"domain":[-0.55,69.4],"nice":false,"zero":false},"axis":null},"x2":{"field":"x2"},"y":{"field":"y","type":"quantitative","scale":{"domain":[27610,36158],"nice":false,"zero":false}},"y2":{"field":"y2"},
"fill":{"condition":[{"test":"datum.k=='leg'","value":"#dfe5ec"},{"test":"datum.k=='grn'","value":"#6be76b"},{"test":"datum.k=='wht'","value":"#f6fbf6"},{"test":"datum.k=='gry'","value":"#e3e3e3"},{"test":"datum.k=='icon'","value":"#3fc23f"},{"test":"datum.k=='dly'","value":"#f5f8ff"},{"test":"datum.k=='ic_red'","value":"#e8505a"},{"test":"datum.k=='ic_grn'","value":"#1fd21f"},{"test":"datum.k=='ic_blue'","value":"#1818c8"},{"test":"datum.k=='ic_cyan'","value":"#20dede"},{"test":"datum.k=='ic_mag'","value":"#ff00ff"}],"value":"#000000"},
"stroke":{"condition":[{"test":"datum.k=='leg'","value":"#8c98a6"},{"test":"datum.k=='grn'","value":"#3f9f3f"},{"test":"datum.k=='icon'","value":"#2e8e2e"},{"test":"datum.k=='dly'","value":"#1a1aff"},{"test":"indexof(datum.k,'ic_')==0","value":"transparent"}],"value":"#a0aab4"}}},
{"data":{"name":"labels"},"mark":{"type":"text","align":"left","baseline":"middle","font":"Liberation Sans","fontSize":11},
"encoding":{"x":{"field":"i","type":"quantitative","scale":{"domain":[-0.55,69.4],"nice":false,"zero":false},"axis":null},"y":{"field":"p","type":"quantitative","scale":{"domain":[27610,36158],"nice":false,"zero":false}},"text":{"field":"t"},
"color":{"condition":[{"test":"datum.k=='grn'","value":"#1e9e1e"},{"test":"datum.k=='gry'","value":"#a8a8a8"},{"test":"datum.k=='red'","value":"#e02020"}],"value":"#000000"}}},
{"data":{"name":"boldlabels"},"mark":{"type":"text","align":"left","baseline":"middle","font":"Liberation Sans","fontSize":11.5,"fontWeight":"bold","color":"#119911"},
"encoding":{"x":{"field":"i","type":"quantitative","scale":{"domain":[-0.55,69.4],"nice":false,"zero":false},"axis":null},"y":{"field":"p","type":"quantitative","scale":{"domain":[27610,36158],"nice":false,"zero":false}},"text":{"field":"t"}}},
{"data":{"name":"dly"},"mark":{"type":"text","align":"left","baseline":"middle","font":"Liberation Sans","color":"#1a1aff"},
"encoding":{"x":{"field":"i","type":"quantitative","scale":{"domain":[-0.55,69.4],"nice":false,"zero":false},"axis":null},"y":{"field":"p","type":"quantitative","scale":{"domain":[27610,36158],"nice":false,"zero":false}},"text":{"field":"t"},"size":{"condition":{"test":"datum.t=='DLY'","value":17},"value":14}}},
{"data":{"name":"badges"},"mark":{"type":"point","shape":"M-1,-0.31L1,-0.31L1,0.31L-1,0.31Z","size":2304,"filled":true,"stroke":"#8a97a5","strokeWidth":1,"opacity":1},
"encoding":{"x":{"datum":70.72,"type":"quantitative","scale":{"domain":[-0.55,69.4],"nice":false,"zero":false},"axis":null},"y":{"field":"p","type":"quantitative","scale":{"domain":[27610,36158],"nice":false,"zero":false}},"fill":{"condition":{"test":"datum.s=='close'","value":"#ffc400"},"value":"#e6edf7"}}},
{"data":{"name":"badges"},"mark":{"type":"text","align":"center","baseline":"middle","font":"Liberation Sans","fontSize":11},
"encoding":{"x":{"datum":70.72,"type":"quantitative","scale":{"domain":[-0.55,69.4],"nice":false,"zero":false},"axis":null},"y":{"field":"p","type":"quantitative","scale":{"domain":[27610,36158],"nice":false,"zero":false}},"text":{"field":"t"},
"color":{"condition":[{"test":"datum.s=='boll'","value":"#ff00ff"},{"test":"datum.s=='ssb'","value":"#00d400"},{"test":"datum.s=='kij'","value":"#0000cc"},{"test":"datum.s=='ssa'","value":"#00b0b0"},{"test":"datum.s=='ten'","value":"#ff2020"},{"test":"datum.s=='chik'","value":"#a00000"}],"value":"#000000"}}}
]
},
{
"width":1665,"height":24,
"view":{"fill":"#dae3f9","stroke":"#8596a8"},
"resolve":{"scale":{"y":"independent"}},
"layer":[
{"data":{"name":"aval"},"mark":{"type":"area","color":"#b6bfe8","clip":true},
"encoding":{"x":{"field":"i","type":"quantitative","scale":{"domain":[-0.55,69.4],"nice":false,"zero":false},"axis":null},"y":{"field":"v","type":"quantitative","scale":{"domain":[-1.25,1.45],"nice":false,"zero":false},"axis":null},"y2":{"datum":-1.25}}},
{"data":{"name":"aval"},"transform":[{"filter":"datum.v != 0"}],
"mark":{"type":"point","shape":"M-1,-0.55L1,-0.55L1,0.55L-1,0.55Z","size":289,"filled":true,"strokeWidth":1,"opacity":1},
"encoding":{"x":{"field":"i","type":"quantitative","scale":{"domain":[-0.55,69.4],"nice":false,"zero":false},"axis":null},"y":{"field":"v","type":"quantitative","scale":{"domain":[-2.51,2.89],"nice":false,"zero":false},"axis":null},
"fill":{"condition":{"test":"datum.v > 0","value":"#19ee19"},"value":"#f0157a"},"stroke":{"condition":{"test":"datum.v > 0","value":"#0c9a0c"},"value":"#a0104a"}}},
{"data":{"values":[{"x":-0.5,"x2":3.4,"y":1.34,"y2":-0.46,"k":"leg"},{"x":-0.38,"x2":-0.21,"y":1.1,"y2":-0.2,"k":"g"},{"x":-0.21,"x2":-0.04,"y":1.1,"y2":-0.2,"k":"r"}]},
"mark":{"type":"rect","strokeWidth":1},
"encoding":{"x":{"field":"x","type":"quantitative","scale":{"domain":[-0.55,69.4],"nice":false,"zero":false},"axis":null},"x2":{"field":"x2"},"y":{"field":"y","type":"quantitative","scale":{"domain":[-1.25,1.45],"nice":false,"zero":false},"axis":null},"y2":{"field":"y2"},
"fill":{"condition":[{"test":"datum.k=='leg'","value":"#dfe5ec"},{"test":"datum.k=='g'","value":"#19e019"}],"value":"#f0157a"},"stroke":{"condition":{"test":"datum.k=='leg'","value":"#8c98a6"},"value":"transparent"}}},
{"data":{"values":[{"i":0.13,"v":0.44,"t":"avalment grphe"}]},
"mark":{"type":"text","align":"left","baseline":"middle","font":"Liberation Sans","fontSize":11,"color":"#000000"},
"encoding":{"x":{"field":"i","type":"quantitative","scale":{"domain":[-0.55,69.4],"nice":false,"zero":false},"axis":null},"y":{"field":"v","type":"quantitative","scale":{"domain":[-1.25,1.45],"nice":false,"zero":false},"axis":null},"text":{"field":"t"}}},
{"data":{"values":[{"i":70.14,"v":-0.12,"t":"-1"}]},
"mark":{"type":"point","shape":"square","size":200,"filled":true,"fill":"#e6edf7","stroke":"#8a97a5","strokeWidth":1,"opacity":1},
"encoding":{"x":{"field":"i","type":"quantitative","scale":{"domain":[-0.55,69.4],"nice":false,"zero":false},"axis":null},"y":{"field":"v","type":"quantitative","scale":{"domain":[-1.25,1.45],"nice":false,"zero":false},"axis":null}}},
{"data":{"values":[{"i":70.14,"v":-0.12,"t":"-1"}]},
"mark":{"type":"text","align":"center","baseline":"middle","font":"Liberation Sans","fontSize":11,"color":"#e0106a"},
"encoding":{"x":{"field":"i","type":"quantitative","scale":{"domain":[-0.55,69.4],"nice":false,"zero":false},"axis":null},"y":{"field":"v","type":"quantitative","scale":{"domain":[-1.25,1.45],"nice":false,"zero":false},"axis":null},"text":{"field":"t"}}}
]
},
{
"width":1665,"height":72,
"view":{"fill":"#dae3f9","stroke":"#8596a8"},
"layer":[
{"data":{"name":"macd"},"transform":[{"filter":"isValid(datum.h)"}],
"mark":{"type":"bar","width":18,"strokeWidth":1},
"encoding":{"x":{"field":"i","type":"quantitative","scale":{"domain":[-0.55,69.4],"nice":false,"zero":false},"axis":null},
"y":{"field":"h","type":"quantitative","scale":{"domain":[-739,507],"nice":false,"zero":false},
"axis":{"orient":"right","title":null,"grid":false,"values":[500,-500],"labelExpr":"datum.value > 0 ? '500' : '-500'","tickSize":4,"tickColor":"#333333","domainColor":"#7d8c9c","labelColor":"#000000","labelFontSize":11,"labelBaseline":{"condition":{"test":"datum.value > 0","value":"top"},"value":"middle"}}},
"y2":{"datum":0},
"fill":{"condition":{"test":"datum.h >= 0","value":"#5fd95f"},"value":"#ec7a7a"},"stroke":{"condition":{"test":"datum.h >= 0","value":"#2c8f2c"},"value":"#b04040"}}},
{"data":{"values":[{}]},"mark":{"type":"rule","color":"#2a2ae0","strokeWidth":1.5},
"encoding":{"y":{"datum":0,"type":"quantitative","scale":{"domain":[-739,507],"nice":false,"zero":false}}}},
{"data":{"name":"macd"},"mark":{"type":"line","color":"#e25555","strokeWidth":1.4,"opacity":0.8,"clip":true},
"encoding":{"x":{"field":"i","type":"quantitative","scale":{"domain":[-0.55,69.4],"nice":false,"zero":false},"axis":null},"y":{"field":"s","type":"quantitative","scale":{"domain":[-739,507],"nice":false,"zero":false}}}},
{"data":{"name":"macd"},"mark":{"type":"line","color":"#3434d6","strokeWidth":1.4,"opacity":0.85,"clip":true},
"encoding":{"x":{"field":"i","type":"quantitative","scale":{"domain":[-0.55,69.4],"nice":false,"zero":false},"axis":null},"y":{"field":"m","type":"quantitative","scale":{"domain":[-739,507],"nice":false,"zero":false}}}},
{"data":{"values":[{"x":-0.5,"x2":3.53,"y":490,"y2":213,"k":"leg"},{"x":-0.38,"x2":-0.26,"y":450,"y2":250,"k":"g"},{"x":-0.26,"x2":-0.14,"y":450,"y2":250,"k":"r"},{"x":-0.14,"x2":-0.02,"y":450,"y2":250,"k":"b"}]},
"mark":{"type":"rect","strokeWidth":1},
"encoding":{"x":{"field":"x","type":"quantitative","scale":{"domain":[-0.55,69.4],"nice":false,"zero":false},"axis":null},"x2":{"field":"x2"},"y":{"field":"y","type":"quantitative","scale":{"domain":[-739,507],"nice":false,"zero":false}},"y2":{"field":"y2"},
"fill":{"condition":[{"test":"datum.k=='leg'","value":"#dfe5ec"},{"test":"datum.k=='g'","value":"#50c050"},{"test":"datum.k=='r'","value":"#e05050"}],"value":"#3434d6"},"stroke":{"condition":{"test":"datum.k=='leg'","value":"#8c98a6"},"value":"transparent"}}},
{"data":{"values":[{"i":0.13,"u":351,"t":"MACD (26 52 9)"}]},
"mark":{"type":"text","align":"left","baseline":"middle","font":"Liberation Sans","fontSize":11,"color":"#000000"},
"encoding":{"x":{"field":"i","type":"quantitative","scale":{"domain":[-0.55,69.4],"nice":false,"zero":false},"axis":null},"y":{"field":"u","type":"quantitative","scale":{"domain":[-739,507],"nice":false,"zero":false}},"text":{"field":"t"}}},
{"data":{"values":[{"u":5,"t":"-130,86","s":"h"},{"u":-145,"t":"-162,80","s":"s"},{"u":-336,"t":"-293,66","s":"m"}]},
"mark":{"type":"point","shape":"M-1,-0.31L1,-0.31L1,0.31L-1,0.31Z","size":2304,"filled":true,"fill":"#e6edf7","stroke":"#8a97a5","strokeWidth":1,"opacity":1},
"encoding":{"x":{"datum":70.75,"type":"quantitative","scale":{"domain":[-0.55,69.4],"nice":false,"zero":false},"axis":null},"y":{"field":"u","type":"quantitative","scale":{"domain":[-739,507],"nice":false,"zero":false}}}},
{"data":{"values":[{"u":5,"t":"-130,86","s":"h"},{"u":-145,"t":"-162,80","s":"s"},{"u":-336,"t":"-293,66","s":"m"}]},
"mark":{"type":"text","align":"center","baseline":"middle","font":"Liberation Sans","fontSize":11},
"encoding":{"x":{"datum":70.75,"type":"quantitative","scale":{"domain":[-0.55,69.4],"nice":false,"zero":false},"axis":null},"y":{"field":"u","type":"quantitative","scale":{"domain":[-739,507],"nice":false,"zero":false}},"text":{"field":"t"},
"color":{"condition":[{"test":"datum.s=='h'","value":"#e87070"},{"test":"datum.s=='s'","value":"#e03030"}],"value":"#2a2ad0"}}}
]
},
{
"width":1720,"height":23,
"view":{"fill":null,"stroke":"#8596a8"},
"layer":[
{"data":{"name":"dates"},"transform":[{"filter":"datum.m == 0"}],
"mark":{"type":"text","align":"center","baseline":"middle","font":"Liberation Sans","fontSize":11,"color":"#000000"},
"encoding":{"x":{"field":"i","type":"quantitative","scale":{"domain":[-0.55,71.72],"nice":false,"zero":false},"axis":null},"y":{"datum":0.4,"type":"quantitative","scale":{"domain":[0,1],"nice":false,"zero":false},"axis":null},"text":{"field":"t"}}},
{"data":{"name":"dates"},"transform":[{"filter":"datum.m == 1"}],
"mark":{"type":"text","align":"center","baseline":"middle","font":"Liberation Sans","fontSize":11,"fontWeight":"bold","color":"#000000"},
"encoding":{"x":{"field":"i","type":"quantitative","scale":{"domain":[-0.55,71.72],"nice":false,"zero":false},"axis":null},"y":{"datum":0.4,"type":"quantitative","scale":{"domain":[0,1],"nice":false,"zero":false},"axis":null},"text":{"field":"t"}}}
]
}
]
}
